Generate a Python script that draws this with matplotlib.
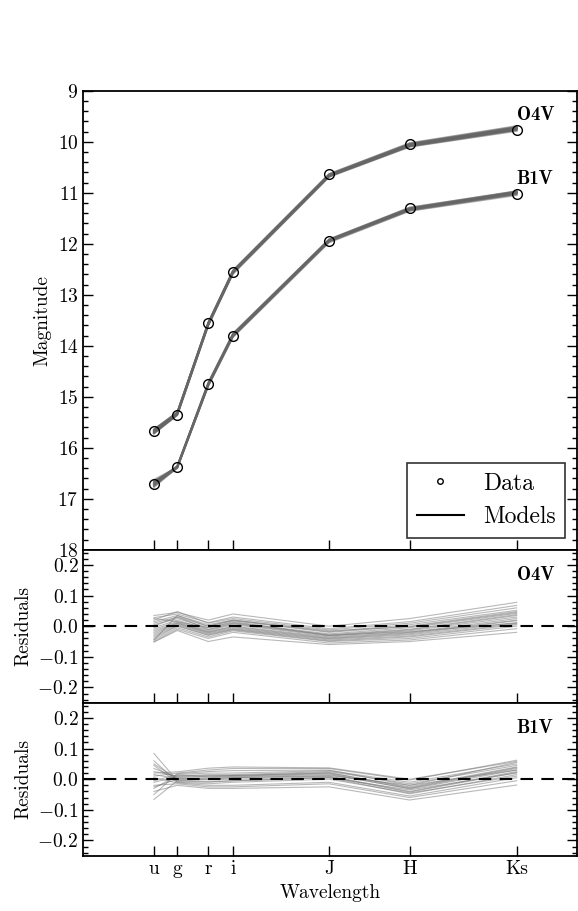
import numpy as np
import matplotlib
matplotlib.use('Agg')
import matplotlib.pyplot as plt

plt.rcParams['font.family'] = 'serif'
plt.rcParams['font.serif'] = ['cmr10']
plt.rcParams['mathtext.fontset'] = 'cm'
plt.rcParams['axes.formatter.use_mathtext'] = True
plt.rcParams['font.size'] = 14

# band names and effective wavelengths (micron)
bands = ['u', 'g', 'r', 'i', 'J', 'H', 'Ks']
wave = [0.358, 0.476, 0.633, 0.758, 1.245, 1.653, 2.195]

# observed magnitudes
o4v_mag = [15.67, 15.35, 13.56, 12.56, 10.63, 10.05, 9.77]
b1v_mag = [16.71, 16.38, 14.76, 13.80, 11.95, 11.29, 11.03]

# residuals (data - model) for each model realisation
o4v_res = [
    [ 0.035,  0.045,  0.020,  0.040,  0.000,  0.025,  0.078],
    [ 0.028,  0.040,  0.012,  0.030, -0.008,  0.015,  0.068],
    [ 0.020,  0.048,  0.010,  0.025, -0.012,  0.010,  0.060],
    [ 0.015,  0.035,  0.005,  0.020, -0.018,  0.005,  0.052],
    [ 0.010,  0.030,  0.000,  0.018, -0.020,  0.000,  0.048],
    [ 0.005,  0.025, -0.005,  0.012, -0.025, -0.005,  0.042],
    [ 0.000,  0.030, -0.010,  0.010, -0.028, -0.010,  0.038],
    [-0.005,  0.020, -0.012,  0.008, -0.030, -0.012,  0.035],
    [-0.010,  0.015, -0.015,  0.005, -0.032, -0.015,  0.030],
    [-0.015,  0.012, -0.018,  0.000, -0.035, -0.020,  0.025],
    [-0.020,  0.010, -0.020, -0.002, -0.038, -0.022,  0.020],
    [-0.025,  0.008, -0.022, -0.005, -0.040, -0.025,  0.018],
    [-0.030,  0.005, -0.025, -0.008, -0.042, -0.028,  0.012],
    [-0.035,  0.002, -0.028, -0.010, -0.045, -0.032,  0.008],
    [-0.040,  0.000, -0.030, -0.012, -0.048, -0.035,  0.005],
    [-0.045, -0.005, -0.035, -0.015, -0.050, -0.040,  0.000],
    [-0.050, -0.010, -0.040, -0.020, -0.055, -0.045, -0.008],
    [-0.052, -0.014, -0.050, -0.035, -0.060, -0.050, -0.020],
    [ 0.025,  0.015, -0.005,  0.015, -0.030, -0.018,  0.010],
    [-0.045,  0.035,  0.000,  0.020, -0.015, -0.002,  0.045],
]
b1v_res = [
    [ 0.084, -0.005,  0.000,  0.005,  0.012, -0.020,  0.030],
    [ 0.060, -0.008, -0.010, -0.005,  0.005, -0.035,  0.020],
    [ 0.050,  0.000,  0.005,  0.008,  0.015, -0.030,  0.035],
    [ 0.045, -0.010, -0.015, -0.010,  0.000, -0.045,  0.010],
    [ 0.035,  0.005,  0.010,  0.012,  0.020, -0.025,  0.040],
    [ 0.025,  0.010,  0.015,  0.015,  0.025, -0.015,  0.045],
    [ 0.015,  0.002,  0.002,  0.005,  0.010, -0.040,  0.025],
    [ 0.010,  0.020,  0.030,  0.035,  0.035, -0.003,  0.062],
    [ 0.005, -0.012, -0.020, -0.020, -0.010, -0.055,  0.005],
    [-0.005,  0.015,  0.020,  0.020,  0.028, -0.010,  0.050],
    [-0.010,  0.008,  0.008,  0.010,  0.018, -0.032,  0.030],
    [-0.020, -0.015, -0.025, -0.025, -0.015, -0.060, -0.005],
    [-0.030,  0.012,  0.012,  0.012,  0.022, -0.028,  0.038],
    [-0.040, -0.020, -0.030, -0.030, -0.025, -0.068, -0.019],
    [-0.050,  0.018,  0.025,  0.028,  0.030, -0.020,  0.055],
    [-0.066, -0.005, -0.008, -0.005,  0.005, -0.048,  0.015],
    [ 0.020,  0.024,  0.036,  0.040,  0.037,  0.000,  0.058],
    [-0.025,  0.000, -0.002,  0.000,  0.008, -0.042,  0.022],
]

stars = [('O4V', o4v_mag, o4v_res), ('B1V', b1v_mag, b1v_res)]

fig = plt.figure(figsize=(5.78, 9.11), dpi=100)
gs = fig.add_gridspec(3, 1, height_ratios=[3, 1, 1], hspace=0,
                      left=0.1441, right=0.998, top=0.9004, bottom=0.0607)
ax = fig.add_subplot(gs[0])
rax = [fig.add_subplot(gs[1], sharex=ax), fig.add_subplot(gs[2], sharex=ax)]

for k, (name, mag, res) in enumerate(stars):
    mag = np.array(mag)
    res = np.array(res)
    for r in res:
        ax.plot(wave, mag - r, '-', color='0.4', lw=1.3, alpha=0.45)
        rax[k].plot(wave, r, '-', color='0.45', lw=0.8, alpha=0.5)
    ax.plot(wave, mag, 'o', mfc='none', mec='k', ms=7, mew=1, zorder=5)
    ax.text(wave[-1], mag[-1] - 0.2, name, fontfamily='cmb10', fontsize=13.5)
    rax[k].axhline(0, color='k', ls='--', lw=1.5, dashes=(6, 4))
    rax[k].text(wave[-1], 0.15, name, fontfamily='cmb10', fontsize=13.5)
    rax[k].set_ylim(-0.25, 0.25)
    rax[k].set_yticks([-0.2, -0.1, 0.0, 0.1, 0.2])
    rax[k].set_yticks(np.arange(-0.24, 0.25, 0.02), minor=True)
    rax[k].set_ylabel('Residuals')

# legend proxies
ax.plot([], [], 'o', mfc='none', mec='k', ms=4, label='Data')
ax.plot([], [], '-', color='k', lw=1.5, label='Models')
leg = ax.legend(loc='lower right', numpoints=1, fancybox=False, handlelength=2.0,
                fontsize=17, borderaxespad=0.5)
leg.get_frame().set_edgecolor('k')
leg.get_frame().set_linewidth(1.2)

ax.set_ylim(18, 9)
ax.set_yticks(range(9, 19))
ax.set_yticks(np.arange(9, 18.01, 0.2), minor=True)
ax.set_ylabel('Magnitude')
ax.set_xlim(0, 2.5)
ax.set_xticks(wave)
ax.set_xticklabels(bands)
rax[1].set_xlabel('Wavelength')

for a in [ax] + rax:
    a.tick_params(which='both', direction='in', left=True, right=True, top=False, bottom=True)
    a.tick_params(which='major', length=7, width=1)
    a.tick_params(which='minor', length=3.5, width=1)
    a.tick_params(axis='x', which='minor', bottom=False)
    for s in a.spines.values():
        s.set_linewidth(1.3)
ax.tick_params(labelbottom=False)
rax[0].tick_params(labelbottom=False)

fig.savefig('out.png', dpi=100)
